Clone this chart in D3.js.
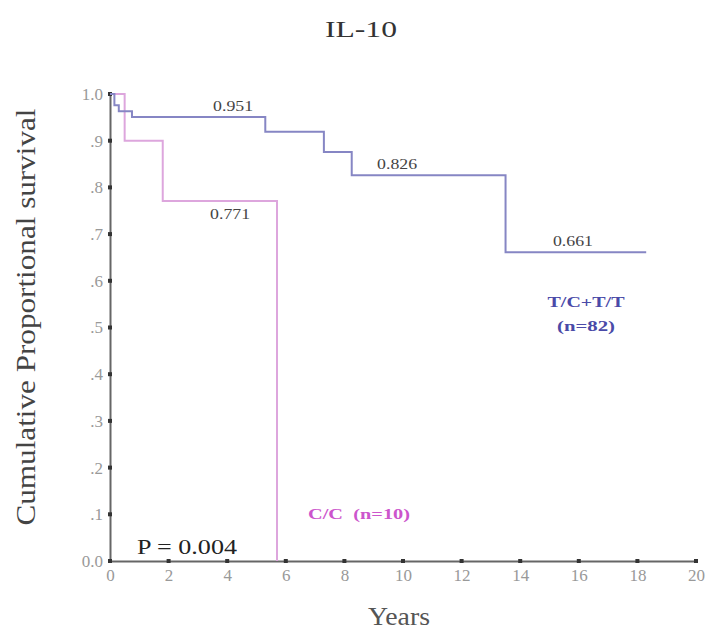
<!DOCTYPE html>
<html>
<head>
<meta charset="utf-8">
<script src="https://cdnjs.cloudflare.com/ajax/libs/d3/7.8.5/d3.min.js"></script>
<style>
  body { margin: 0; background: #fff; }
  text { font-family: "Liberation Serif", "DejaVu Serif", serif; }
</style>
</head>
<body>
<svg id="chart" width="709" height="631"></svg>
<script>
// survival steps: [time in years, cumulative survival]
var groupTC = [[0, 1.0], [0.15, 0.976], [0.3, 0.963], [0.75, 0.951], [5.3, 0.919],
               [7.3, 0.876], [8.25, 0.826], [13.5, 0.661], [18.3, 0.661]];
var groupCC = [[0, 1.0], [0.5, 0.9], [1.8, 0.771], [5.7, 0.0]];

var stepLabels = [[4.2, 0.951, "0.951"], [9.8, 0.826, "0.826"],
                  [4.1, 0.771, "0.771"], [15.8, 0.661, "0.661"]];
var xTicks = [0, 2, 4, 6, 8, 10, 12, 14, 16, 18, 20];
var yTicks = [0, 0.1, 0.2, 0.3, 0.4, 0.5, 0.6, 0.7, 0.8, 0.9, 1.0];
var yTickText = ["0.0", ".1", ".2", ".3", ".4", ".5", ".6", ".7", ".8", ".9", "1.0"];

var svg = d3.select("#chart");

var x = d3.scaleLinear().domain([0, 20]).range([110, 696]);
var y = d3.scaleLinear().domain([0, 1]).range([561, 94]);

function label(px, py, str, size, len, color) {
    return svg.append("text")
        .attr("x", px).attr("y", py)
        .attr("text-anchor", "middle")
        .attr("textLength", len).attr("lengthAdjust", "spacingAndGlyphs")
        .style("font-size", size + "px").style("fill", color)
        .text(str);
}

// title
label(361, 37, "IL-10", 23, 72, "#333");

// axes
var xAxis = svg.append("g")
    .attr("transform", "translate(0," + y(0) + ")")
    .call(d3.axisBottom(x).tickValues(xTicks).tickSize(0).tickPadding(8));
var yAxis = svg.append("g")
    .attr("transform", "translate(" + x(0) + ",0)")
    .call(d3.axisLeft(y).tickValues(yTicks).tickSize(0).tickPadding(7)
        .tickFormat(function (d, i) { return yTickText[i]; }));

[xAxis, yAxis].forEach(function (a) {
    a.select(".domain").style("stroke", "#666").style("stroke-width", 2);
    a.selectAll(".tick text")
        .style("font-family", "'Liberation Serif', 'DejaVu Serif', serif")
        .style("font-size", "17px")
        .style("fill", "#999");
});

// dot tick marks
svg.selectAll(".xdot").data(xTicks).enter().append("rect")
    .attr("x", function (d) { return x(d) - 2; }).attr("y", y(0) - 2)
    .attr("width", 4).attr("height", 4).style("fill", "#333");
svg.selectAll(".ydot").data(yTicks).enter().append("rect")
    .attr("x", x(0) - 2).attr("y", function (d) { return y(d) - 2; })
    .attr("width", 4).attr("height", 4).style("fill", "#333");

// curves
var line = d3.line()
    .x(function (d) { return x(d[0]); })
    .y(function (d) { return y(d[1]); })
    .curve(d3.curveStepAfter);

svg.append("path").datum(groupCC)
    .attr("d", line)
    .style("fill", "none").style("stroke", "#dda6dd").style("stroke-width", 2);
svg.append("path").datum(groupTC)
    .attr("d", line)
    .style("fill", "none").style("stroke", "#8686c4").style("stroke-width", 2);

// step value labels
stepLabels.forEach(function (d, i) {
    label(x(d[0]), i == 2 ? y(d[1]) + 18 : y(d[1]) - 6, d[2], 15, 40, "#444");
});

// group labels
label(586, 307, "T/C+T/T", 15, 77, "#4a4aa8").style("font-weight", "bold");
label(586, 331, "(n=82)", 15, 58, "#4a4aa8").style("font-weight", "bold");
label(359, 519, "C/C  (n=10)", 15, 102, "#cc55cc").style("font-weight", "bold")
    .attr("xml:space", "preserve");

// p-value
label(187, 554, "P = 0.004", 21, 100, "#222");

// axis titles
label(399, 625, "Years", 25, 62, "#555");
svg.append("text")
    .attr("transform", "translate(35,317) rotate(-90)")
    .attr("text-anchor", "middle")
    .attr("textLength", 417).attr("lengthAdjust", "spacingAndGlyphs")
    .style("font-size", "28px").style("fill", "#444")
    .text("Cumulative Proportional survival");
</script>
</body>
</html>
